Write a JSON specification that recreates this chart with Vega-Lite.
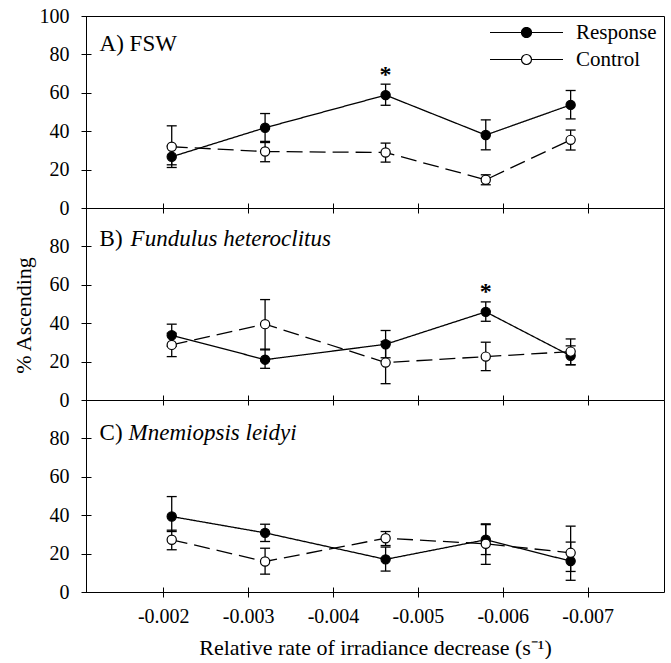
{
  "$schema": "https://vega.github.io/schema/vega-lite/v6.json",
  "autosize": {"type": "pad"},
  "padding": {"left": 11, "top": 5, "right": 0, "bottom": 0},
  "spacing": 0,
  "bounds": "flush",
  "datasets": {
    "pts": [
      {"panel": "A", "series": "Response", "x": -0.0021, "y": 26.7, "lo": 21.1, "hi": 32.3},
      {"panel": "A", "series": "Response", "x": -0.0032, "y": 41.8, "lo": 34.1, "hi": 49.2},
      {"panel": "A", "series": "Response", "x": -0.00462, "y": 58.8, "lo": 53.5, "hi": 64.5, "sig": "*"},
      {"panel": "A", "series": "Response", "x": -0.0058, "y": 38.0, "lo": 30.3, "hi": 45.9},
      {"panel": "A", "series": "Response", "x": -0.0068, "y": 53.7, "lo": 46.4, "hi": 61.2},
      {"panel": "A", "series": "Control", "x": -0.0021, "y": 31.9, "lo": 22.5, "hi": 42.8},
      {"panel": "A", "series": "Control", "x": -0.0032, "y": 29.4, "lo": 24.1, "hi": 34.7},
      {"panel": "A", "series": "Control", "x": -0.00462, "y": 28.9, "lo": 23.9, "hi": 33.8},
      {"panel": "A", "series": "Control", "x": -0.0058, "y": 14.7, "lo": 12.1, "hi": 17.3},
      {"panel": "A", "series": "Control", "x": -0.0068, "y": 35.5, "lo": 30.2, "hi": 40.6},
      {"panel": "B", "series": "Response", "x": -0.0021, "y": 33.7, "lo": 28.0, "hi": 39.5},
      {"panel": "B", "series": "Response", "x": -0.0032, "y": 21.0, "lo": 16.5, "hi": 26.5},
      {"panel": "B", "series": "Response", "x": -0.00462, "y": 29.0, "lo": 22.0, "hi": 36.2},
      {"panel": "B", "series": "Response", "x": -0.0058, "y": 45.9, "lo": 41.0, "hi": 51.1, "sig": "*"},
      {"panel": "B", "series": "Response", "x": -0.0068, "y": 23.0, "lo": 18.3, "hi": 28.2},
      {"panel": "B", "series": "Control", "x": -0.0021, "y": 28.7, "lo": 22.6, "hi": 34.8},
      {"panel": "B", "series": "Control", "x": -0.0032, "y": 39.5, "lo": 26.1, "hi": 52.3},
      {"panel": "B", "series": "Control", "x": -0.00462, "y": 19.5, "lo": 8.5, "hi": 30.5},
      {"panel": "B", "series": "Control", "x": -0.0058, "y": 22.6, "lo": 15.3, "hi": 30.1},
      {"panel": "B", "series": "Control", "x": -0.0068, "y": 25.2, "lo": 18.4, "hi": 31.8},
      {"panel": "C", "series": "Response", "x": -0.0021, "y": 39.3, "lo": 31.5, "hi": 49.7},
      {"panel": "C", "series": "Response", "x": -0.0032, "y": 30.8, "lo": 26.3, "hi": 35.3},
      {"panel": "C", "series": "Response", "x": -0.00462, "y": 17.0, "lo": 10.9, "hi": 23.4},
      {"panel": "C", "series": "Response", "x": -0.0058, "y": 27.2, "lo": 19.5, "hi": 35.1},
      {"panel": "C", "series": "Response", "x": -0.0068, "y": 16.1, "lo": 6.1, "hi": 26.0},
      {"panel": "C", "series": "Control", "x": -0.0021, "y": 27.2, "lo": 22.0, "hi": 32.2},
      {"panel": "C", "series": "Control", "x": -0.0032, "y": 15.9, "lo": 9.3, "hi": 22.8},
      {"panel": "C", "series": "Control", "x": -0.00462, "y": 28.0, "lo": 24.2, "hi": 31.5},
      {"panel": "C", "series": "Control", "x": -0.0058, "y": 25.1, "lo": 14.4, "hi": 35.5},
      {"panel": "C", "series": "Control", "x": -0.0068, "y": 20.4, "lo": 10.7, "hi": 34.3}
    ],
    "labels": [
      {"panel": "A", "prefix": "A) FSW", "name": ""},
      {"panel": "B", "prefix": "B)", "name": "Fundulus heteroclitus"},
      {"panel": "C", "prefix": "C)", "name": "Mnemiopsis leidyi"}
    ]
  },
  "resolve": {"legend": {"fill": "independent"}},
  "vconcat": [
    {
      "width": 578, "height": 192,
      "layer": [
        {"data": {"name": "pts"},
         "transform": [{"filter": "datum.panel === 'A'"}],
         "encoding": {
           "x": {"field": "x", "type": "quantitative",
             "scale": {"domain": [-0.00109, -0.0079], "nice": false, "zero": false},
             "axis": {"values": [-0.002, -0.003, -0.004, -0.005, -0.006, -0.007], "labels": false, "tickSize": 10, "offset": -5, "domain": false, "grid": false, "title": null, "tickColor": "black", "tickWidth": 1}},
           "y": {"field": "y", "type": "quantitative", "scale": {"domain": [0, 100], "nice": false},
             "axis": {"values": [0, 20, 40, 60, 80, 100], "labelOverlap": false, "tickSize": 10, "offset": -5, "domain": false, "grid": false, "title": null, "labelFontSize": 20, "labelPadding": 12, "labelColor": "black", "tickColor": "black", "tickWidth": 1}}},
         "layer": [
           {"mark": {"type": "rule", "color": "black", "strokeWidth": 1.3},
            "encoding": {"y": {"field": "lo", "type": "quantitative", "scale": {"domain": [0, 100], "nice": false},
              "axis": {"values": [0, 20, 40, 60, 80, 100], "labelOverlap": false, "tickSize": 10, "offset": -5, "domain": false, "grid": false, "title": null, "labelFontSize": 20, "labelPadding": 12, "labelColor": "black", "tickColor": "black", "tickWidth": 1}},
              "y2": {"field": "hi"}}},
           {"mark": {"type": "tick", "orient": "horizontal", "size": 10, "thickness": 1.3, "color": "black", "opacity": 1},
            "encoding": {"y": {"field": "lo", "type": "quantitative", "scale": {"domain": [0, 100], "nice": false},
              "axis": {"values": [0, 20, 40, 60, 80, 100], "labelOverlap": false, "tickSize": 10, "offset": -5, "domain": false, "grid": false, "title": null, "labelFontSize": 20, "labelPadding": 12, "labelColor": "black", "tickColor": "black", "tickWidth": 1}}}},
           {"mark": {"type": "tick", "orient": "horizontal", "size": 10, "thickness": 1.3, "color": "black", "opacity": 1},
            "encoding": {"y": {"field": "hi", "type": "quantitative", "scale": {"domain": [0, 100], "nice": false},
              "axis": {"values": [0, 20, 40, 60, 80, 100], "labelOverlap": false, "tickSize": 10, "offset": -5, "domain": false, "grid": false, "title": null, "labelFontSize": 20, "labelPadding": 12, "labelColor": "black", "tickColor": "black", "tickWidth": 1}}}},
           {"mark": {"type": "line", "color": "black", "strokeWidth": 1.3},
            "encoding": {
              "strokeDash": {"field": "series", "type": "nominal",
                "scale": {"domain": ["Response", "Control"], "range": [[1, 0], [16, 7]]}, "legend": null}}},
           {"mark": {"type": "point", "shape": "circle", "filled": true, "size": 85, "stroke": "black", "strokeWidth": 1.2, "opacity": 1},
            "encoding": {
              "fill": {"field": "series", "type": "nominal",
                "scale": {"domain": ["Response", "Control"], "range": ["black", "white"]},
                "legend": {"orient": "none", "legendX": 430, "legendY": 6, "title": null,
                  "symbolType": "M1,0A1,1,0,1,1,-1,0A1,1,0,1,1,1,0M-7.3,0H-1M1,0H7.3",
                  "symbolSize": 100, "symbolStrokeColor": "black", "symbolStrokeWidth": 1.2, "symbolOpacity": 1,
                  "labelFontSize": 21, "labelFont": "Liberation Serif", "labelColor": "black", "labelOffset": 39, "rowPadding": 5, "padding": 0,
                  "encode": {"symbols": {"update": {"strokeDash": {"signal": "datum.value === 'Control' ? [31.5, 0.01, 20, 5, 6.5, 8, 23.5, 100] : [1, 0]"}}}}}}}},
           {"transform": [{"filter": "datum.sig"}],
            "mark": {"type": "text", "text": "*", "fontSize": 24, "fontWeight": "bold", "dy": -2, "baseline": "alphabetic", "color": "black"},
            "encoding": {"y": {"field": "hi", "type": "quantitative", "scale": {"domain": [0, 100], "nice": false},
              "axis": {"values": [0, 20, 40, 60, 80, 100], "labelOverlap": false, "tickSize": 10, "offset": -5, "domain": false, "grid": false, "title": null, "labelFontSize": 20, "labelPadding": 12, "labelColor": "black", "tickColor": "black", "tickWidth": 1}}}}
         ]},
        {"data": {"name": "labels"},
         "transform": [{"filter": "datum.panel === 'A'"}],
         "mark": {"type": "text", "align": "left", "baseline": "alphabetic", "fontSize": 23, "color": "black"},
         "encoding": {
           "x": {"datum": -0.00125, "type": "quantitative",
             "scale": {"domain": [-0.00109, -0.0079], "nice": false, "zero": false},
             "axis": {"values": [-0.002, -0.003, -0.004, -0.005, -0.006, -0.007], "labels": false, "tickSize": 10, "offset": -5, "domain": false, "grid": false, "title": null, "tickColor": "black", "tickWidth": 1}},
           "y": {"datum": 81.8, "type": "quantitative", "scale": {"domain": [0, 100], "nice": false},
             "axis": {"values": [0, 20, 40, 60, 80, 100], "labelOverlap": false, "tickSize": 10, "offset": -5, "domain": false, "grid": false, "title": null, "labelFontSize": 20, "labelPadding": 12, "labelColor": "black", "tickColor": "black", "tickWidth": 1}},
           "text": {"field": "prefix"}}}
      ]
    },
    {
      "width": 578, "height": 192,
      "layer": [
        {"data": {"name": "pts"}, "transform": [{"filter": "datum.panel === 'B'"}],
         "mark": {"type": "rule", "color": "black", "strokeWidth": 1.3},
         "encoding": {
           "x": {"field": "x", "type": "quantitative",
             "scale": {"domain": [-0.00109, -0.0079], "nice": false, "zero": false},
             "axis": {"values": [-0.002, -0.003, -0.004, -0.005, -0.006, -0.007], "labels": false, "tickSize": 10, "offset": -5, "domain": false, "grid": false, "title": null, "tickColor": "black", "tickWidth": 1}},
           "y": {"field": "lo", "type": "quantitative", "scale": {"domain": [0, 100], "nice": false},
             "axis": {"values": [0, 20, 40, 60, 80], "labelOverlap": false, "tickSize": 10, "offset": -5, "domain": false, "grid": false, "title": "% Ascending", "titleFontSize": 22, "titleFontWeight": "normal", "titleColor": "black", "titlePadding": 14, "titleY": 107, "labelFontSize": 20, "labelPadding": 12, "labelColor": "black", "tickColor": "black", "tickWidth": 1}},
           "y2": {"field": "hi"}}},
        {"data": {"name": "pts"}, "transform": [{"filter": "datum.panel === 'B'"}],
         "mark": {"type": "tick", "orient": "horizontal", "size": 10, "thickness": 1.3, "color": "black", "opacity": 1},
         "encoding": {"x": {"field": "x", "type": "quantitative"}, "y": {"field": "lo", "type": "quantitative"}}},
        {"data": {"name": "pts"}, "transform": [{"filter": "datum.panel === 'B'"}],
         "mark": {"type": "tick", "orient": "horizontal", "size": 10, "thickness": 1.3, "color": "black", "opacity": 1},
         "encoding": {"x": {"field": "x", "type": "quantitative"}, "y": {"field": "hi", "type": "quantitative"}}},
        {"data": {"name": "pts"}, "transform": [{"filter": "datum.panel === 'B'"}],
         "mark": {"type": "line", "color": "black", "strokeWidth": 1.3},
         "encoding": {
           "x": {"field": "x", "type": "quantitative"},
           "y": {"field": "y", "type": "quantitative"},
           "strokeDash": {"field": "series", "type": "nominal",
             "scale": {"domain": ["Response", "Control"], "range": [[1, 0], [16, 7]]}, "legend": null}}},
        {"data": {"name": "pts"}, "transform": [{"filter": "datum.panel === 'B'"}],
         "mark": {"type": "point", "shape": "circle", "filled": true, "size": 85, "stroke": "black", "strokeWidth": 1.2, "opacity": 1},
         "encoding": {
           "x": {"field": "x", "type": "quantitative"},
           "y": {"field": "y", "type": "quantitative"},
           "fill": {"field": "series", "type": "nominal",
             "scale": {"domain": ["Response", "Control"], "range": ["black", "white"]}, "legend": null}}},
        {"data": {"name": "pts"}, "transform": [{"filter": "datum.panel === 'B' && datum.sig"}],
         "mark": {"type": "text", "text": "*", "fontSize": 24, "fontWeight": "bold", "dy": -3, "baseline": "alphabetic", "color": "black"},
         "encoding": {"x": {"field": "x", "type": "quantitative"}, "y": {"field": "hi", "type": "quantitative"}}},
        {"data": {"name": "labels"}, "transform": [{"filter": "datum.panel === 'B'"}],
         "mark": {"type": "text", "align": "left", "baseline": "alphabetic", "fontSize": 23, "color": "black"},
         "encoding": {
           "x": {"datum": -0.00125, "type": "quantitative"},
           "y": {"datum": 80, "type": "quantitative"},
           "text": {"field": "prefix"}}},
        {"data": {"name": "labels"}, "transform": [{"filter": "datum.panel === 'B'"}],
         "mark": {"type": "text", "align": "left", "baseline": "alphabetic", "fontSize": 23, "fontStyle": "italic", "dx": 31, "color": "black"},
         "encoding": {
           "x": {"datum": -0.00125, "type": "quantitative"},
           "y": {"datum": 80, "type": "quantitative"},
           "text": {"field": "name"}}}
      ]
    },
    {
      "width": 578, "height": 192,
      "layer": [
        {"data": {"name": "pts"}, "transform": [{"filter": "datum.panel === 'C'"}],
         "mark": {"type": "rule", "color": "black", "strokeWidth": 1.3},
         "encoding": {
           "x": {"field": "x", "type": "quantitative",
             "scale": {"domain": [-0.00109, -0.0079], "nice": false, "zero": false},
             "axis": {"values": [-0.002, -0.003, -0.004, -0.005, -0.006, -0.007], "labels": true, "labelOverlap": false, "labelExpr": "'-' + format(-datum.value, '.3f')", "labelFontSize": 20, "labelPadding": 9, "labelColor": "black", "labelFlush": false, "tickSize": 10, "offset": -5, "domain": false, "grid": false, "title": "Relative rate of irradiance decrease (s⁻¹)", "titleFontSize": 22, "titleFontWeight": "normal", "titleColor": "black", "titlePadding": 11, "tickColor": "black", "tickWidth": 1}},
           "y": {"field": "lo", "type": "quantitative", "scale": {"domain": [0, 100], "nice": false},
             "axis": {"values": [0, 20, 40, 60, 80], "labelOverlap": false, "tickSize": 10, "offset": -5, "domain": false, "grid": false, "title": null, "labelFontSize": 20, "labelPadding": 12, "labelColor": "black", "tickColor": "black", "tickWidth": 1}},
           "y2": {"field": "hi"}}},
        {"data": {"name": "pts"}, "transform": [{"filter": "datum.panel === 'C'"}],
         "mark": {"type": "tick", "orient": "horizontal", "size": 10, "thickness": 1.3, "color": "black", "opacity": 1},
         "encoding": {"x": {"field": "x", "type": "quantitative"}, "y": {"field": "lo", "type": "quantitative"}}},
        {"data": {"name": "pts"}, "transform": [{"filter": "datum.panel === 'C'"}],
         "mark": {"type": "tick", "orient": "horizontal", "size": 10, "thickness": 1.3, "color": "black", "opacity": 1},
         "encoding": {"x": {"field": "x", "type": "quantitative"}, "y": {"field": "hi", "type": "quantitative"}}},
        {"data": {"name": "pts"}, "transform": [{"filter": "datum.panel === 'C'"}],
         "mark": {"type": "line", "color": "black", "strokeWidth": 1.3},
         "encoding": {
           "x": {"field": "x", "type": "quantitative"},
           "y": {"field": "y", "type": "quantitative"},
           "strokeDash": {"field": "series", "type": "nominal",
             "scale": {"domain": ["Response", "Control"], "range": [[1, 0], [16, 7]]}, "legend": null}}},
        {"data": {"name": "pts"}, "transform": [{"filter": "datum.panel === 'C'"}],
         "mark": {"type": "point", "shape": "circle", "filled": true, "size": 85, "stroke": "black", "strokeWidth": 1.2, "opacity": 1},
         "encoding": {
           "x": {"field": "x", "type": "quantitative"},
           "y": {"field": "y", "type": "quantitative"},
           "fill": {"field": "series", "type": "nominal",
             "scale": {"domain": ["Response", "Control"], "range": ["black", "white"]}, "legend": null}}},
        {"data": {"name": "labels"}, "transform": [{"filter": "datum.panel === 'C'"}],
         "mark": {"type": "text", "align": "left", "baseline": "alphabetic", "fontSize": 23, "color": "black"},
         "encoding": {
           "x": {"datum": -0.00125, "type": "quantitative"},
           "y": {"datum": 79, "type": "quantitative"},
           "text": {"field": "prefix"}}},
        {"data": {"name": "labels"}, "transform": [{"filter": "datum.panel === 'C'"}],
         "mark": {"type": "text", "align": "left", "baseline": "alphabetic", "fontSize": 23, "fontStyle": "italic", "dx": 29, "color": "black"},
         "encoding": {
           "x": {"datum": -0.00125, "type": "quantitative"},
           "y": {"datum": 79, "type": "quantitative"},
           "text": {"field": "name"}}}
      ]
    }
  ],
  "config": {
    "font": "Liberation Serif",
    "view": {"stroke": "black", "strokeWidth": 1},
    "axis": {"labelFont": "Liberation Serif", "titleFont": "Liberation Serif", "labelOverlap": false},
    "legend": {"labelFont": "Liberation Serif"}
  }
}
